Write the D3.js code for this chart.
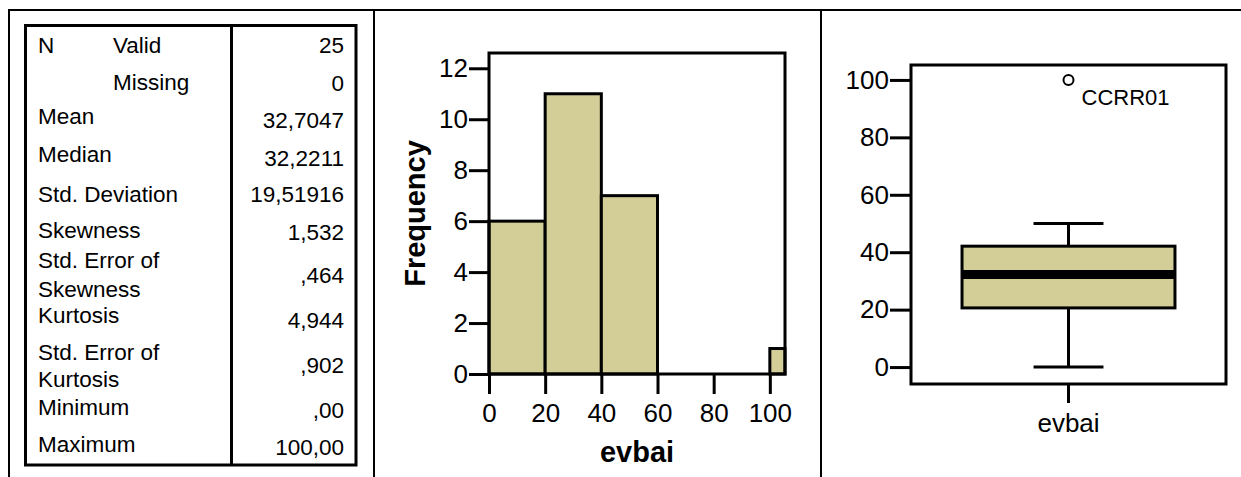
<!DOCTYPE html>
<html>
<head>
<meta charset="utf-8">
<script src="https://cdn.jsdelivr.net/npm/d3@7"></script>
<style>
  html, body { margin: 0; padding: 0; background: #fff; }
  svg { display: block; }
  text { font-family: "Liberation Sans", Arial, sans-serif; fill: #000; }
</style>
</head>
<body>
<svg id="chart" width="1241" height="477"></svg>
<script>
// ---- statistics table ----
const statLabels = [
  ["N", "Valid"],
  ["", "Missing"],
  ["Mean"],
  ["Median"],
  ["Std. Deviation"],
  ["Skewness"],
  ["Std. Error of", "Skewness"],
  ["Kurtosis"],
  ["Std. Error of", "Kurtosis"],
  ["Minimum"],
  ["Maximum"]
];
const statValues = ["25", "0", "32,7047", "32,2211", "19,51916", "1,532", ",464", "4,944", ",902", ",00", "100,00"];

// ---- histogram of evbai ----
const binEdges = [0, 20, 40, 60, 80, 100, 120];
const binCounts = [6, 11, 7, 0, 0, 1];
const histYTicks = [0, 2, 4, 6, 8, 10, 12];
const histXTicks = [0, 20, 40, 60, 80, 100];
const histXTitle = "evbai";
const histYTitle = "Frequency";

// ---- boxplot of evbai ----
const boxVariable = "evbai";
const boxStats = { low: 0, q1: 20.6, median: 32.2211, q3: 42.1, high: 50 };
const outliers = [{ value: 100, label: "CCRR01" }];
const boxYTicks = [0, 20, 40, 60, 80, 100];

const fillColor = "#d3ce97";
const svg = d3.select("#chart");

// page frame: top rule and column separators
const frame = svg.append("g").attr("stroke", "#000").attr("stroke-width", 2);
frame.append("line").attr("x1", 8).attr("x2", 1241).attr("y1", 10).attr("y2", 10);
[9, 374, 821].forEach(x => frame.append("line").attr("x1", x).attr("x2", x).attr("y1", 10).attr("y2", 477));

// ---------- table ----------
const tbl = svg.append("g");
tbl.append("rect").attr("x", 25.5).attr("y", 25.5).attr("width", 330.5).attr("height", 439.5)
  .attr("fill", "none").attr("stroke", "#000").attr("stroke-width", 3);
tbl.append("line").attr("x1", 231.5).attr("x2", 231.5).attr("y1", 25.5).attr("y2", 465)
  .attr("stroke", "#000").attr("stroke-width", 3);

// baselines of the label lines and of the value in each row
const labelBase = [[53, 53], [90, 90], [124], [162], [202], [238], [268, 297], [323], [360, 387], [415], [452]];
const valueBase = [53, 91, 128, 166, 202, 240, 283, 328, 373, 418, 455];
const tblFont = 22.5;
statLabels.forEach((lines, i) => {
  if (i < 2) {
    if (lines[0]) tbl.append("text").attr("x", 38).attr("y", labelBase[i][0]).attr("font-size", tblFont).text(lines[0]);
    tbl.append("text").attr("x", 113).attr("y", labelBase[i][1]).attr("font-size", tblFont).text(lines[1]);
  } else {
    lines.forEach((t, k) => tbl.append("text").attr("x", 38).attr("y", labelBase[i][k]).attr("font-size", tblFont).text(t));
  }
  tbl.append("text").attr("x", 344).attr("y", valueBase[i]).attr("text-anchor", "end")
    .attr("font-size", tblFont).text(statValues[i]);
});

// ---------- histogram ----------
const hx = d3.scaleLinear().domain([0, 105.4]).range([489, 785]);
const hy = d3.scaleLinear().domain([0, 12.6]).range([374, 53]);
const hist = svg.append("g");
const bins = binCounts.map((c, i) => ({ x0: binEdges[i], x1: Math.min(binEdges[i + 1], hx.domain()[1]), count: c }))
  .filter(d => d.count > 0);
hist.selectAll("rect.bar").data(bins).join("rect").attr("class", "bar")
  .attr("x", d => hx(d.x0)).attr("y", d => hy(d.count))
  .attr("width", d => hx(d.x1) - hx(d.x0)).attr("height", d => hy(0) - hy(d.count))
  .attr("fill", fillColor).attr("stroke", "#000").attr("stroke-width", 3);
hist.append("rect").attr("x", hx.range()[0]).attr("y", hy.range()[1])
  .attr("width", hx.range()[1] - hx.range()[0]).attr("height", hy.range()[0] - hy.range()[1])
  .attr("fill", "none").attr("stroke", "#000").attr("stroke-width", 3);

function styleAxis(g, fontSize) {
  g.select(".domain").remove();
  g.selectAll(".tick line").attr("stroke", "#000").attr("stroke-width", 3);
  g.selectAll(".tick text").attr("font-size", fontSize).attr("font-family", "Liberation Sans, Arial, sans-serif").attr("fill", "#000");
}
hist.append("g").attr("transform", `translate(${hx.range()[0]},0)`)
  .call(d3.axisLeft(hy).tickValues(histYTicks).tickFormat(d3.format("d")).tickSize(20).tickPadding(1))
  .call(g => styleAxis(g, 26));
hist.append("g").attr("transform", `translate(0,${hy(0)})`)
  .call(d3.axisBottom(hx).tickValues(histXTicks).tickFormat(d3.format("d")).tickSize(20).tickPadding(10))
  .call(g => styleAxis(g, 26));
hist.append("text").attr("x", (hx.range()[0] + hx.range()[1]) / 2).attr("y", 462)
  .attr("text-anchor", "middle").attr("font-size", 29).attr("font-weight", "bold").text(histXTitle);
hist.append("text").attr("transform", `translate(425,${(hy.range()[0] + hy.range()[1]) / 2}) rotate(-90)`)
  .attr("text-anchor", "middle").attr("font-size", 29).attr("font-weight", "bold").text(histYTitle);

// ---------- boxplot ----------
const by = d3.scaleLinear().domain([-5.9, 105.2]).range([384, 65]);
const bx = d3.scaleBand().domain([boxVariable]).range([911, 1226]);
const cx = bx(boxVariable) + bx.bandwidth() / 2;
const boxW = bx.bandwidth() * 0.676, capW = bx.bandwidth() * 0.222;
const box = svg.append("g");
box.append("rect").attr("x", bx.range()[0]).attr("y", by.range()[1])
  .attr("width", bx.range()[1] - bx.range()[0]).attr("height", by.range()[0] - by.range()[1])
  .attr("fill", "none").attr("stroke", "#000").attr("stroke-width", 3);
box.append("line").attr("x1", cx).attr("x2", cx).attr("y1", by(boxStats.high)).attr("y2", by(boxStats.low))
  .attr("stroke", "#000").attr("stroke-width", 3);
[boxStats.high, boxStats.low].forEach(v => box.append("line")
  .attr("x1", cx - capW / 2).attr("x2", cx + capW / 2).attr("y1", by(v)).attr("y2", by(v))
  .attr("stroke", "#000").attr("stroke-width", 3));
box.append("rect").attr("x", cx - boxW / 2).attr("y", by(boxStats.q3))
  .attr("width", boxW).attr("height", by(boxStats.q1) - by(boxStats.q3))
  .attr("fill", fillColor).attr("stroke", "#000").attr("stroke-width", 3);
box.append("line").attr("x1", cx - boxW / 2).attr("x2", cx + boxW / 2)
  .attr("y1", by(boxStats.median)).attr("y2", by(boxStats.median))
  .attr("stroke", "#000").attr("stroke-width", 9);
outliers.forEach(o => {
  box.append("circle").attr("cx", cx).attr("cy", by(o.value)).attr("r", 5)
    .attr("fill", "#fff").attr("stroke", "#000").attr("stroke-width", 2);
  box.append("text").attr("x", cx + 13).attr("y", by(o.value) + 25).attr("font-size", 22).text(o.label);
});
box.append("g").attr("transform", `translate(${bx.range()[0]},0)`)
  .call(d3.axisLeft(by).tickValues(boxYTicks).tickFormat(d3.format("d")).tickSize(21).tickPadding(1))
  .call(g => styleAxis(g, 26));
box.append("g").attr("transform", `translate(0,${by.range()[0]})`)
  .call(d3.axisBottom(bx).tickSize(19).tickPadding(11))
  .call(g => styleAxis(g, 26));
</script>
</body>
</html>
